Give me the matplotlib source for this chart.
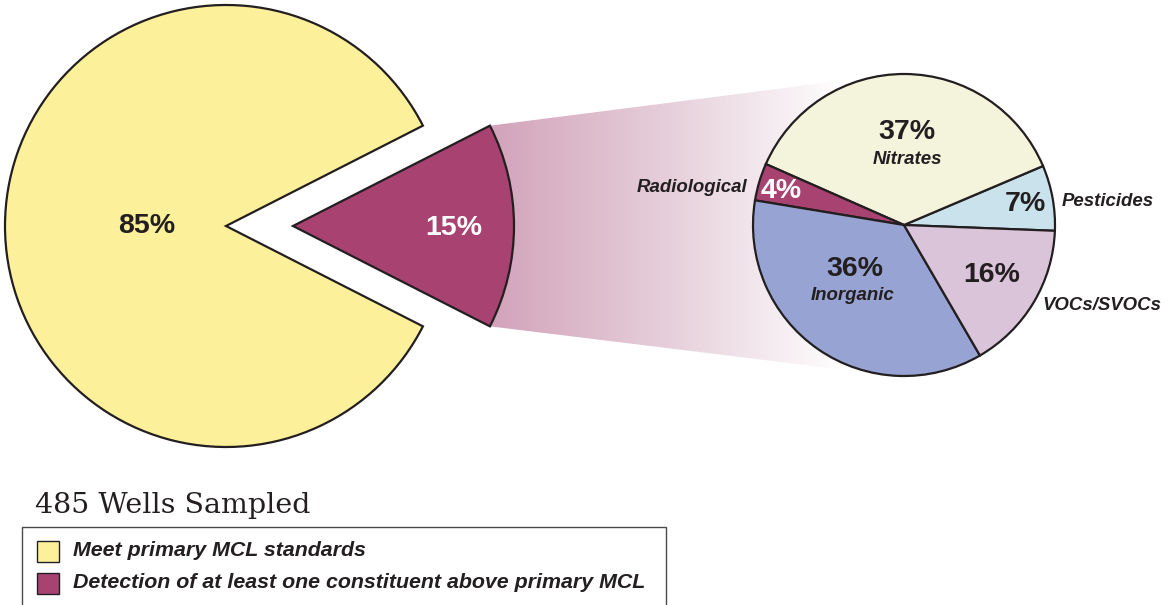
import numpy as np
import matplotlib
matplotlib.use('Agg')
import matplotlib.pyplot as plt
from matplotlib.patches import Polygon, Rectangle
from matplotlib.colors import LinearSegmentedColormap

W, H = 1168, 605

# ---- data ----
main_labels = ['Meet primary MCL standards',
               'Detection of at least one constituent above primary MCL']
main_values = [85, 15]
main_colors = ['#FDF09A', '#A84270']

sub_labels = ['Pesticides', 'Nitrates', 'Radiological', 'Inorganic', 'VOCs/SVOCs']
sub_values = [7, 37, 4, 36, 16]
sub_colors = ['#C9E2EB', '#F4F3DB', '#A84270', '#97A4D3', '#DAC4DA']

title = '485 Wells Sampled'

# ---- layout ----
edge = '#231F20'
sans = ['Liberation Sans', 'DejaVu Sans']


def Y(y):
    return H - y


fig = plt.figure(figsize=(W / 100, H / 100), dpi=100)
ax = fig.add_axes([0, 0, 1, 1])

big_c = np.array([226.0, Y(226)])
big_r = 221.0
expl_px = 67.0
half = main_values[1] / 100 * 360 / 2
start_big = half

wedges_big, _ = ax.pie(main_values, colors=main_colors, startangle=start_big,
                       counterclock=True, radius=big_r, center=tuple(big_c),
                       explode=[0, expl_px],
                       wedgeprops=dict(edgecolor=edge, linewidth=1.6))
for w in wedges_big:
    w.set_zorder(3)

sub_c = np.array([904.0, Y(225)])
sub_r = 151.0
wedges_sub, _ = ax.pie(sub_values, colors=sub_colors, startangle=-2.2,
                       counterclock=True, radius=sub_r, center=tuple(sub_c),
                       wedgeprops=dict(edgecolor=edge, linewidth=1.6))
for w in wedges_sub:
    w.set_zorder(3)

# ---- gradient band ----
tip = big_c + np.array([expl_px, 0])
p_top = tip + big_r * np.array([np.cos(np.radians(half)), np.sin(np.radians(half))])
p_bot = tip + big_r * np.array([np.cos(np.radians(-half)), np.sin(np.radians(-half))])


def tangent(p, sign):
    d = sub_c - p
    dist = np.hypot(*d)
    beta = np.arctan2(d[1], d[0])
    alpha = np.arcsin(sub_r / dist)
    L = np.sqrt(dist ** 2 - sub_r ** 2)
    a = beta + sign * alpha
    return p + L * np.array([np.cos(a), np.sin(a)])


t_top = tangent(p_top, +1)
t_bot = tangent(p_bot, -1)
band = Polygon([tip, p_top, t_top, sub_c, t_bot, p_bot], closed=True,
               facecolor='none', edgecolor='none', zorder=1)
ax.add_patch(band)
cmap = LinearSegmentedColormap.from_list('band', ['#D2A3BA', '#E6CFDA', '#FFFFFF'])
grad = np.linspace(0, 1, 256).reshape(1, -1)
x0, x1 = p_bot[0], 845
im = ax.imshow(grad, cmap=cmap, extent=[x0, x1, Y(400), Y(60)],
               aspect='auto', zorder=1, interpolation='bilinear')
im.set_clip_path(band)

# ---- labels on pies ----
pct = dict(fontsize=20.5, fontweight='bold', family=sans, ha='center', va='center', zorder=5)
ax.text(147, Y(226), f'{main_values[0]}%', color='#231F20', **pct)
ax.text(454, Y(228), f'{main_values[1]}%', color='white', **pct)

ax.text(907, Y(132), f'{sub_values[1]}%', color='#231F20', **pct)
ax.text(1025, Y(204), f'{sub_values[0]}%', color='#231F20', **pct)
ax.text(992, Y(275), f'{sub_values[4]}%', color='#231F20', **pct)
ax.text(855, Y(269), f'{sub_values[3]}%', color='#231F20', **pct)
ax.text(781, Y(191), f'{sub_values[2]}%', color='white', **pct)

nm = dict(fontsize=13.4, fontweight='bold', style='italic', family=sans,
          va='center', color='#231F20', zorder=5)
ax.text(907, Y(160), sub_labels[1], ha='center', **nm)
ax.text(853, Y(296), sub_labels[3], ha='center', **nm)
ax.text(1062, Y(202), sub_labels[0], ha='left', **nm)
ax.text(1042, Y(306), sub_labels[4], ha='left', **nm)
ax.text(747, Y(187), sub_labels[2], ha='right', **nm)

# ---- title and legend ----
ax.text(35, Y(513), title, fontsize=20.5, family=['DejaVu Serif'], color='#231F20',
        ha='left', va='baseline')
ax.add_patch(Rectangle((22, Y(640)), 644, 640 - 527, facecolor='white',
                       edgecolor='#4a4a4a', linewidth=1.0, zorder=2))
leg_y = [551, 583]
for lab, col, yy in zip(main_labels, main_colors, leg_y):
    ax.add_patch(Rectangle((37, Y(yy + 11)), 22, 21, facecolor=col,
                           edgecolor=edge, linewidth=1.0, zorder=3))
    ax.text(73, Y(yy), lab, fontsize=15.4, fontweight='bold', style='italic',
            family=sans, color='#231F20', ha='left', va='center', zorder=4)

ax.set_xlim(0, W)
ax.set_ylim(0, H)
ax.set_aspect('auto')
ax.axis('off')
fig.savefig('out.png', dpi=100, facecolor='white')
